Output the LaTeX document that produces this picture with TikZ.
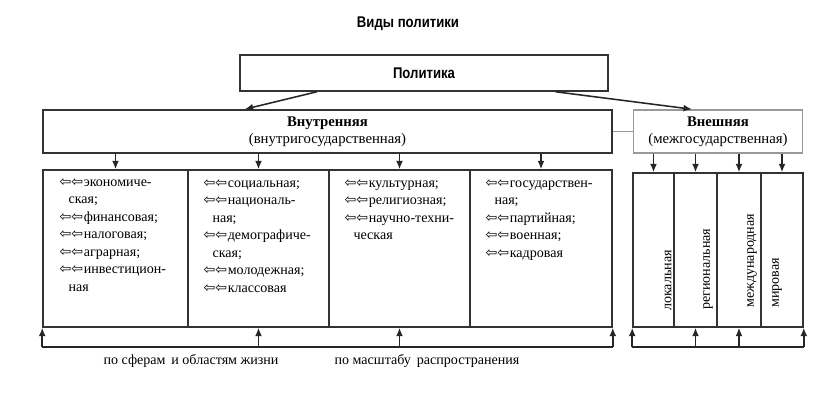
\documentclass[tikz,border=0pt]{standalone}
\usepackage{fontspec}
\setmainfont{Liberation Serif}
\newfontfamily\headfont[FakeStretch=0.85]{Liberation Sans}
\newfontfamily\symfont{DejaVu Sans}
\usetikzlibrary{calc,arrows.meta}

\newcommand{\itm}{{\symfont\fontsize{10}{12}\selectfont ⇦⇦}\kern0.5pt}
\newcommand{\cont}{\hspace*{6.4pt}}

\tikzset{
  box/.style={draw=black!80, line width=1.1pt, inner sep=0pt, align=center},
  col/.style={draw=black!80, line width=1.1pt, inner sep=0pt},
  arr/.style={line width=1.1pt, black!85, -{Latex[length=6pt,width=5pt]}},
  items/.style={anchor=north west, inner sep=0pt, align=left, font=\fontsize{10}{12.4}\selectfont},
  vert/.style={rotate=90, anchor=west, inner sep=0pt, font=\fontsize{10}{12}\selectfont}
}

\begin{document}
\begin{tikzpicture}[x=0.025cm, y=-0.025cm]
\useasboundingbox (0,0) rectangle (816,412);

\node (title) at (408,24) {\headfont\bfseries\fontsize{11}{13}\selectfont Виды политики};

\node[box, minimum width=368*0.025cm, minimum height=36*0.025cm] (pol) at (424,73)
  {\headfont\bfseries\fontsize{11}{13}\selectfont Политика};
\node[box, minimum width=569*0.025cm, minimum height=43*0.025cm,
  font=\fontsize{10.5}{12}\selectfont] (vnutr) at (327.5,131.5)
  {\textbf{Внутренняя}\\(внутригосударственная)};
\node[box, draw=black!40, minimum width=169*0.025cm, minimum height=43*0.025cm,
  font=\fontsize{10.5}{12}\selectfont] (vnesh) at (718,131.5)
  {\textbf{Внешняя}\\(межгосударственная)};

\draw[arr] ($(pol.south west)!0.21!(pol.south east)$) -- ($(vnutr.north west)!0.355!(vnutr.north east)$);
\draw[arr] ($(pol.south west)!0.856!(pol.south east)$) -- ($(vnesh.north west)!0.347!(vnesh.north east)$);
\draw[line width=1.1pt, black!40] (vnutr.east) -- (vnesh.west);

% inner columns
\foreach \n/\a/\b in {c1/43/188, c2/188/329, c3/329/470, c4/470/612}{
  \node[col, minimum width={(\b-\a)*0.025cm}, minimum height=157*0.025cm] (\n) at ({(\a+\b)/2},248.5) {};
  \draw[arr] (\n.north |- vnutr.south) -- (\n.north);
}

% outer columns
\foreach \n/\a/\b in {e1/633/674, e2/674/717, e3/717/761, e4/761/803}{
  \node[col, minimum width={(\b-\a)*0.025cm}, minimum height=154*0.025cm] (\n) at ({(\a+\b)/2},250) {};
  \draw[arr] (\n.north |- vnesh.south) -- (\n.north);
}

\node[items] (t1) at ($(c1.north west)+(17,9)$) {\itm экономиче-\\\cont ская;\\\itm финансовая;\\\itm налоговая;\\\itm аграрная;\\\itm инвестицион-\\\cont ная};
\node[items] (t2) at ($(c2.north west)+(16,10)$) {\itm социальная;\\\itm националь-\\\cont ная;\\\itm демографиче-\\\cont ская;\\\itm молодежная;\\\itm классовая};
\node[items] (t3) at ($(c3.north west)+(16,10)$) {\itm культурная;\\\itm религиозная;\\\itm научно-техни-\\\cont ческая};
\node[items] (t4) at ($(c4.north west)+(16,10)$) {\itm государствен-\\\cont ная;\\\itm партийная;\\\itm военная;\\\itm кадровая};

\node[vert] (v1) at (668,311) {локальная};
\node[vert] (v2) at (708,310) {региональная};
\node[vert] (v3) at (752,308) {международная};
\node[vert] (v4) at (777,308) {мировая};

% bottom brackets
\coordinate (bl) at ($(c1.south west)+(0,19)$);
\coordinate (br) at ($(c4.south east)+(0,19)$);
\draw[line width=1.1pt, black!85] (bl) -- (br);
\foreach \p in {c1.south west, c2.south, c3.south, c4.south east}
  \draw[arr] (\p |- bl) -- (\p);

\coordinate (el) at ($(e1.south west)+(0,19)$);
\coordinate (er) at ($(e4.south east)+(0,19)$);
\draw[line width=1.1pt, black!85] (el) -- (er);
\foreach \p in {e1.south west, e2.south, e3.south, e4.south east}
  \draw[arr] (\p |- el) -- (\p);

\node[font=\fontsize{10}{12}\selectfont] (lab1) at (191,361) {по сферам\, и областям жизни};
\node[font=\fontsize{10}{12}\selectfont] (lab2) at (427,361) {по масштабу\, распространения};
\end{tikzpicture}
\end{document}
